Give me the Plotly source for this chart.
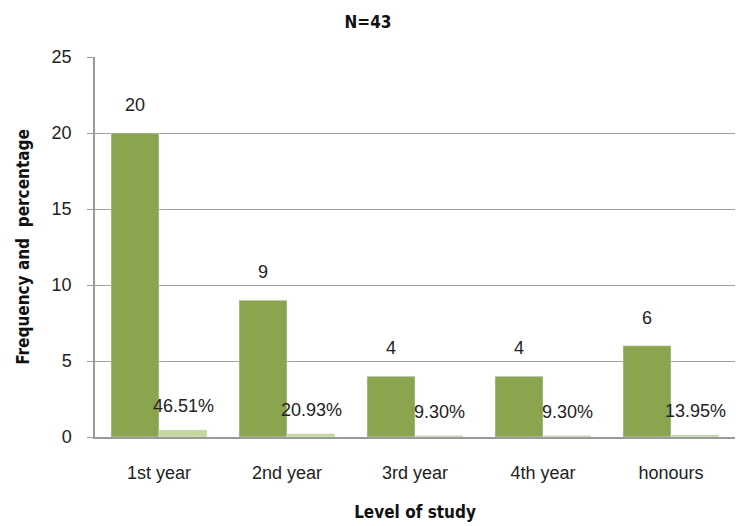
import plotly.graph_objects as go

categories = ["1st year", "2nd year", "3rd year", "4th year", "honours"]
frequency = [20, 9, 4, 4, 6]
percentage = [0.4651, 0.2093, 0.0930, 0.0930, 0.1395]
pct_labels = ["46.51%", "20.93%", "9.30%", "9.30%", "13.95%"]

LABEL_FONT = dict(family="Liberation Sans", size=18, color="#222222")
BOLD_FONT = "DejaVu Sans Condensed, Liberation Sans"

fig = go.Figure()
fig.add_trace(go.Bar(x=categories, y=frequency, marker_color="#8AA54E", name="Frequency"))
fig.add_trace(go.Bar(x=categories, y=percentage, marker_color="#C3D69B", name="Percentage"))

for c, v in zip(categories, frequency):
    fig.add_annotation(x=c, y=v, text=str(v), showarrow=False, xshift=-24, yshift=28,
                       font=LABEL_FONT)
for c, v, t in zip(categories, percentage, pct_labels):
    fig.add_annotation(x=c, y=v, text=t, showarrow=False, xshift=24, yshift=24,
                       font=LABEL_FONT)

fig.update_layout(
    width=736, height=526,
    margin=dict(l=95, r=1, t=57, b=89),
    paper_bgcolor="white", plot_bgcolor="white",
    showlegend=False, barmode="group", bargap=0.25, bargroupgap=0,
    title=dict(text="<b>N=43</b>", x=0.5, xanchor="center", y=0.958, yanchor="middle",
               font=dict(family=BOLD_FONT, size=17, color="#111111")),
    font=dict(family="Liberation Sans", size=18, color="#222222"),
)
fig.update_xaxes(showline=True, linecolor="#9a9a9a", linewidth=1.5, ticks="",
                 tickfont=dict(size=18), ticklabelstandoff=19,
                 title=dict(text="<b>Level of study</b>",
                 font=dict(family=BOLD_FONT, size=17, color="#111111"), standoff=24))
fig.update_yaxes(range=[0, 25], dtick=5, showgrid=True, gridcolor="#a0a0a0", gridwidth=1,
                 showline=True, linecolor="#9a9a9a", linewidth=1.5, ticks="outside", ticklen=6,
                 tickcolor="#9a9a9a", tickfont=dict(size=18), zeroline=False,
                 ticklabelstandoff=12,
                 title=dict(text="<b>Frequency and  percentage</b>",
                 font=dict(family=BOLD_FONT, size=17, color="#111111"), standoff=18))

fig.write_html("out.html")
